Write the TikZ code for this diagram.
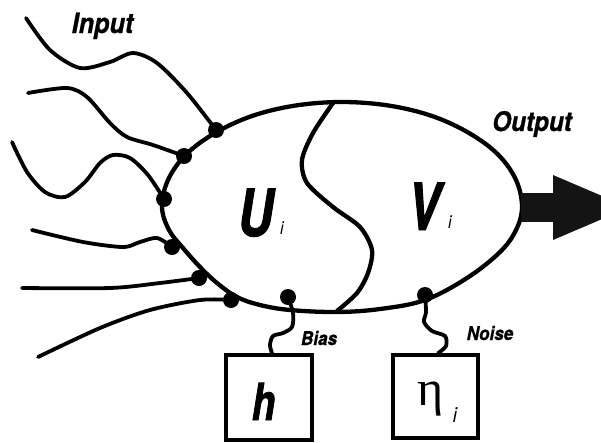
\documentclass[tikz,border=0pt]{standalone}
\usepackage{fontspec}
\setmainfont{TeX Gyre Heros}
\newfontfamily\labfont[FakeStretch=0.9]{TeX Gyre Heros}
\newfontfamily\boldlabfont[FakeStretch=0.9, FakeBold=0.8]{TeX Gyre Heros}
\newfontfamily\bigfont[FakeStretch=0.75, FakeBold=1.5]{TeX Gyre Heros}
\newfontfamily\greekfont{Liberation Serif}

\tikzset{
  wire/.style={line width=3.8pt, line cap=round, line join=round},
  body/.style={line width=4.3pt, line join=round},
  syn/.style={circle, fill=black, inner sep=0pt, minimum size=16pt},
  unitbox/.style={draw, line width=3.5pt, inner sep=0pt},
  lbl/.style={inner sep=0pt, anchor=base},
  caption/.style={lbl, font=\boldlabfont\bfseries\itshape\fontsize{28}{30}\selectfont},
  tag/.style={lbl, font=\boldlabfont\bfseries\itshape\fontsize{19}{21}\selectfont},
  letter/.style={lbl, font=\bigfont\bfseries\itshape\fontsize{65}{70}\selectfont},
  sub/.style={lbl, font=\labfont\itshape\fontsize{18}{20}\selectfont},
}

\begin{document}
\begin{tikzpicture}[x=1pt, y=-1pt]
\useasboundingbox (0,0) rectangle (601,442);
\clip (0,0) rectangle (601,442);

% neuron body
\draw[body] plot[smooth cycle, tension=0.6] coordinates {
  (522,207) (516,180) (498,154.5) (469,133) (432,116) (389,105.6) (342,102)
  (295,105.6) (252,116) (215,133) (186,154.5) (168,180) (162,207) (169,230)
  (183,248) (200,267) (217,283) (237,297) (260,305) (290,310) (337,312)
  (380,309) (425,300) (467,278) (500,252) (516,230)};

% divider between the U and V halves
\draw[body, line cap=round] plot[smooth] coordinates {
  (333,103) (313,133) (302,160) (307,183) (333,207) (360,227) (372,250)
  (368,273) (357,293) (337,311)};

% output arrow
\fill[black!92] (521,193) rectangle (556,222);
\fill[black!92] (553,175) -- (629,207.5) -- (553,240) -- cycle;

% synapses
\node[syn] (d1) at (216,130) {};
\node[syn] (d2) at (184,156) {};
\node[syn] (d3) at (164,199) {};
\node[syn] (d4) at (172,247) {};
\node[syn] (d5) at (199,278) {};
\node[syn] (d6) at (231,300) {};
\node[syn] (db) at (288,297) {};
\node[syn] (dn) at (425,295) {};

% free ends of the input wires
\coordinate (in1) at (26,18);
\coordinate (in2) at (28,93);
\coordinate (in3) at (12,142);
\coordinate (in4) at (32,230);
\coordinate (in5) at (22,288);
\coordinate (in6) at (38,357);

% input wires
\draw[wire] plot[smooth] coordinates {(in1) (50,50) (80,68) (110,62) (133,53) (157,63) (187,93) (d1)};
\draw[wire] plot[smooth] coordinates {(in2) (67,88) (87,97) (110,123) (127,137) (153,145) (d2)};
\draw[wire] plot[smooth] coordinates {(in3) (27,172) (45,192) (65,197) (85,182) (100,163) (113,155) (130,158) (148,175) (d3)};
\draw[wire] plot[smooth] coordinates {(in4) (83,242) (123,247) (140,242) (157,238) (d4)};
\draw[wire] plot[smooth] coordinates {(in5) (110,288) (160,283) (d5)};
\draw[wire] plot[smooth] coordinates {(in6) (100,328) (150,310) (200,300) (d6)};

% bias and noise units
\node[unitbox, minimum width=86pt, minimum height=85pt] (hbox) at (269,397.5) {};
\node[unitbox, minimum width=85pt, minimum height=83pt] (ebox) at (435.5,396.5) {};

\draw[wire] plot[smooth] coordinates {(db) (293,313) (292,327) (283,333) (273,336) (270,345) ([xshift=3pt]hbox.north)};
\draw[wire] plot[smooth] coordinates {(dn) (426,312) (424,322) (432,331) (445,336) (446,346) ([xshift=2.5pt]ebox.north)};

% labels
\node[caption] (input) at (102.5,33) {Input};
\node[caption, font=\boldlabfont\bfseries\itshape\fontsize{27}{29}\selectfont] (output) at (532,131) {Output};
\node[tag] (bias) at (319,345) {Bias};
\node[tag] (noise) at (490,340) {Noise};

\node[letter] (U) at (255.5,236) {U};
\node[sub] (Ui) at (282,234) {i};
\node[letter] (V) at (424,230) {V};
\node[sub] (Vi) at (450,228) {i};

\node[lbl, font=\bigfont\bfseries\itshape\fontsize{51}{55}\selectfont] (h) at (263.5,420) {h};
\node[lbl, font=\greekfont\fontsize{50}{55}\selectfont] (eta) at (431,405) {η};
\node[sub, font=\labfont\itshape\fontsize{21}{23}\selectfont] (etai) at (455,422) {i};
\end{tikzpicture}
\end{document}
